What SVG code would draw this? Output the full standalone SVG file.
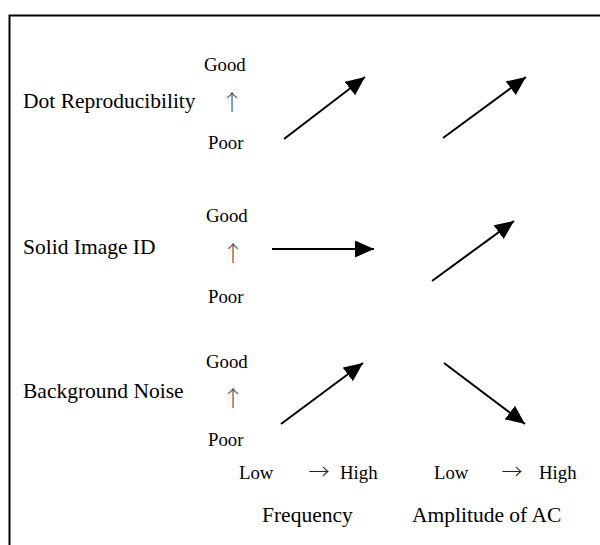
<svg xmlns="http://www.w3.org/2000/svg" width="600" height="545" viewBox="0 0 600 545">
<defs>
<style>
.lbl{font-family:"Liberation Serif","Times New Roman",serif;font-size:21.5px;fill:#000}
.sm{font-family:"Liberation Serif","Times New Roman",serif;font-size:18.8px;fill:#000}
.up{font-family:"Noto Sans CJK JP","DejaVu Sans",sans-serif;font-size:22px;font-weight:300;fill:#555}
.rt{font-family:"Noto Sans CJK JP","DejaVu Sans",sans-serif;font-size:21px;font-weight:300;fill:#222}
.conn{stroke:#000;stroke-width:2;fill:none;marker-end:url(#ah)}
</style>
<marker id="ah" markerUnits="userSpaceOnUse" markerWidth="20" markerHeight="18" refX="19" refY="8.5" orient="auto">
<path d="M0,0 L19,8.5 L0,17 Z" fill="#000"/>
</marker>
</defs>
<rect width="600" height="545" fill="#fff"/>
<path d="M9.5,545 V15.5 H600" fill="none" stroke="#000" stroke-width="2"/>
<g id="row-dot">
<text class="lbl" x="23" y="108">Dot Reproducibility</text>
<text class="sm" x="204" y="71">Good</text>
<text class="up" x="232" y="110" text-anchor="middle">↑</text>
<text class="sm" x="208" y="149">Poor</text>
</g>
<g id="row-solid">
<text class="lbl" x="23" y="254">Solid Image ID</text>
<text class="sm" x="206" y="222">Good</text>
<text class="up" x="233" y="261" text-anchor="middle">↑</text>
<text class="sm" x="208" y="303">Poor</text>
</g>
<g id="row-noise">
<text class="lbl" x="23" y="398">Background Noise</text>
<text class="sm" x="206" y="368">Good</text>
<text class="up" x="233" y="406" text-anchor="middle">↑</text>
<text class="sm" x="208" y="446">Poor</text>
</g>
<g id="axis-frequency">
<text class="sm" x="239" y="479">Low</text>
<text class="rt" x="319" y="479" text-anchor="middle">→</text>
<text class="sm" x="340" y="479">High</text>
<text class="lbl" x="262" y="522">Frequency</text>
</g>
<g id="axis-amplitude">
<text class="sm" x="434" y="479">Low</text>
<text class="rt" x="512" y="479" text-anchor="middle">→</text>
<text class="sm" x="539" y="479">High</text>
<text class="lbl" x="412" y="522">Amplitude of AC</text>
</g>
<g id="connectors">
<line class="conn" x1="284" y1="139" x2="365" y2="77"/>
<line class="conn" x1="443" y1="138" x2="526" y2="77"/>
<line class="conn" x1="272" y1="249" x2="374" y2="249"/>
<line class="conn" x1="432" y1="281" x2="514" y2="221"/>
<line class="conn" x1="281" y1="424" x2="363" y2="363"/>
<line class="conn" x1="444" y1="363" x2="525" y2="424"/>
</g>
</svg>
